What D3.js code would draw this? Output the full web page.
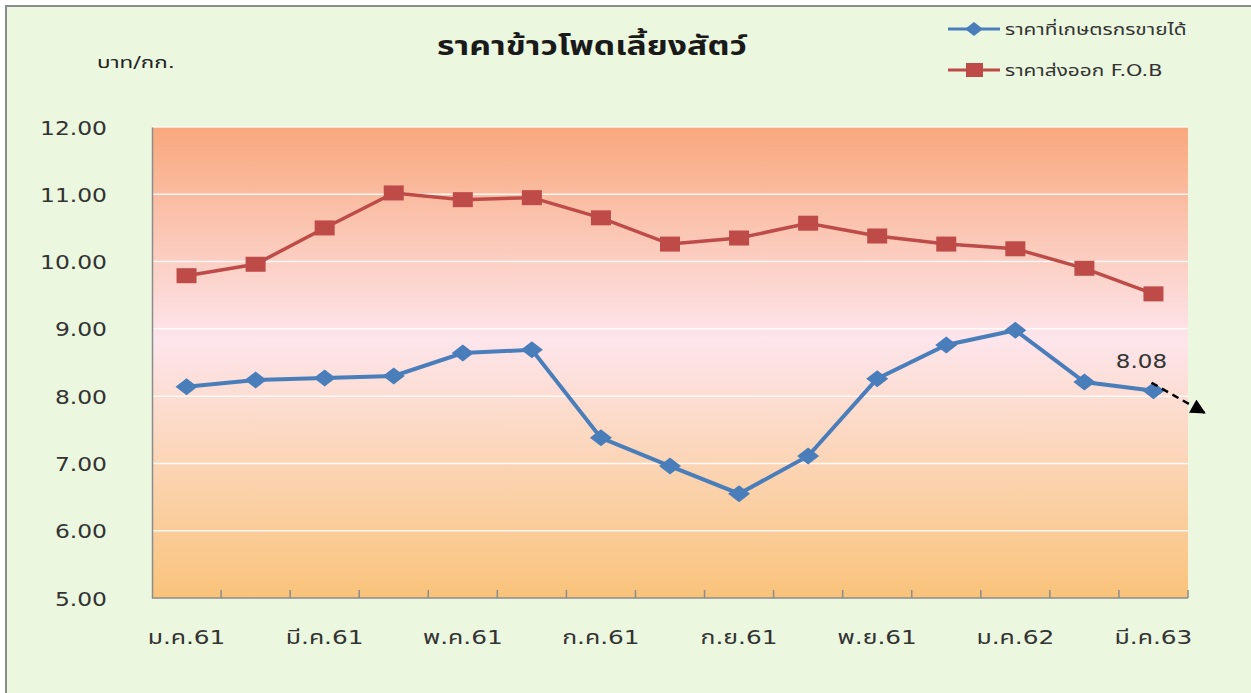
<!DOCTYPE html>
<html>
<head>
<meta charset="utf-8">
<script src="https://cdn.jsdelivr.net/npm/d3@7"></script>
<style>
  body { margin: 0; background: #fff; }
  svg { display: block; font-family: "DejaVu Sans", "Noto Sans Thai", "Noto Sans", sans-serif; }
</style>
</head>
<body>
<div id="chart"></div>
<script>
// months shown on the chart (label printed every other month)
const months = ["ม.ค.61","ก.พ.61","มี.ค.61","เม.ย.61","พ.ค.61","มิ.ย.61","ก.ค.61","ส.ค.61",
                "ก.ย.61","ต.ค.61","พ.ย.61","ธ.ค.61","ม.ค.62","ก.พ.62","มี.ค.63"];
const farmPrice = [8.14, 8.24, 8.27, 8.30, 8.64, 8.69, 7.38, 6.96, 6.55, 7.11, 8.26, 8.76, 8.98, 8.21, 8.08];
const fobPrice  = [9.79, 9.96, 10.50, 11.02, 10.92, 10.95, 10.65, 10.26, 10.35, 10.57, 10.38, 10.26, 10.19, 9.90, 9.52];
const yTicks = [5, 6, 7, 8, 9, 10, 11, 12];
const seriesNames = ["ราคาที่เกษตรกรขายได้", "ราคาส่งออก F.O.B"];

const width = 1251, height = 693;
const margin = {top: 127, right: 63, bottom: 95, left: 152};
const w = width - margin.left - margin.right;
const h = height - margin.top - margin.bottom;

// the original picture is stretched sideways, so text is widened too
const stretch = (sel, sx) => sel.each(function() {
  const t = d3.select(this);
  const px = +t.attr("x") || 0, py = +t.attr("y") || 0;
  t.attr("x", 0).attr("y", 0).attr("transform", `translate(${px},${py}) scale(${sx},1)`);
});

const svg = d3.select("#chart").append("svg")
    .attr("width", width)
    .attr("height", height);

const defs = svg.append("defs");
const grad = defs.append("linearGradient")
    .attr("id", "plotbg").attr("x1", 0).attr("y1", 0).attr("x2", 0).attr("y2", 1);
grad.append("stop").attr("offset", "0%").attr("stop-color", "#f9a87c");
grad.append("stop").attr("offset", "45%").attr("stop-color", "#fde5ec");
grad.append("stop").attr("offset", "100%").attr("stop-color", "#f9c37a");

const arrow = defs.append("marker")
    .attr("id", "arrowhead")
    .attr("viewBox", "0 0 10 10")
    .attr("refX", 9).attr("refY", 5)
    .attr("markerWidth", 6.5).attr("markerHeight", 6)
    .attr("orient", "auto");
arrow.append("path").attr("d", "M0,0 L10,5 L0,10 Z").attr("fill", "#000");

// outer background + frame
svg.append("rect").attr("width", width).attr("height", height).attr("fill", "#ffffff");
svg.append("rect")
    .attr("x", 6).attr("y", 6).attr("width", width).attr("height", height)
    .attr("fill", "#ebf7df")
    .attr("stroke", "#8c8c8c").attr("stroke-width", 2);

const g = svg.append("g").attr("transform", `translate(${margin.left},${margin.top})`);

const x = d3.scaleBand().domain(months).range([0, w]);
const y = d3.scaleLinear().domain([5, 12]).range([h, 0]);
const cx = d => x(d) + x.bandwidth() / 2;

g.append("rect").attr("width", w).attr("height", h).attr("fill", "url(#plotbg)");

// gridlines
g.append("g").selectAll("line")
  .data(yTicks.filter(t => t > 5))
  .join("line")
    .attr("x1", 0).attr("x2", w)
    .attr("y1", d => y(d)).attr("y2", d => y(d))
    .attr("stroke", "#ffffff").attr("stroke-opacity", 0.85).attr("stroke-width", 1.5);

// y axis
const yAxis = g.append("g")
    .call(d3.axisLeft(y).tickValues(yTicks).tickFormat(d3.format(".2f")).tickSize(0));
yAxis.attr("font-family", null);
yAxis.select(".domain").attr("stroke", "#8c8c8c").attr("stroke-width", 1.5);
yAxis.selectAll("text")
    .attr("font-size", 20).attr("fill", "#333")
    .attr("x", -45).attr("y", 0).attr("dy", "0.35em")
    .call(stretch, 1.17);

// x axis: ticks at band boundaries, labels every other month
const xAxis = g.append("g").attr("transform", `translate(0,${h})`);
xAxis.append("line").attr("x1", 0).attr("x2", w).attr("stroke", "#8c8c8c").attr("stroke-width", 1.5);
xAxis.selectAll("line.tick")
  .data(months)
  .join("line")
    .attr("class", "tick")
    .attr("x1", d => x(d) + x.bandwidth()).attr("x2", d => x(d) + x.bandwidth())
    .attr("y1", 0).attr("y2", -8)
    .attr("stroke", "#8c8c8c").attr("stroke-width", 1.5);
xAxis.selectAll("text")
  .data(months.filter((d, i) => i % 2 === 0))
  .join("text")
    .attr("x", d => cx(d)).attr("y", 46)
    .attr("text-anchor", "middle")
    .attr("font-size", 20).attr("fill", "#333")
    .text(d => d)
    .call(stretch, 1.24);

// lines
const line = d3.line().x((d, i) => cx(months[i])).y(d => y(d));

g.append("path").datum(fobPrice)
    .attr("fill", "none").attr("stroke", "#be4b48").attr("stroke-width", 3.5)
    .attr("d", line);
g.append("g").selectAll("rect")
  .data(fobPrice)
  .join("rect")
    .attr("x", (d, i) => cx(months[i]) - 10).attr("y", d => y(d) - 7.5)
    .attr("width", 20).attr("height", 15)
    .attr("fill", "#be4b48");

g.append("path").datum(farmPrice)
    .attr("fill", "none").attr("stroke", "#4a7ebb").attr("stroke-width", 4)
    .attr("d", line);
g.append("g").selectAll("path")
  .data(farmPrice)
  .join("path")
    .attr("transform", (d, i) => `translate(${cx(months[i])},${y(d)})`)
    .attr("d", "M-11,0 L0,-8.5 L11,0 L0,8.5 Z")
    .attr("fill", "#4a7ebb");

// annotation on last farm price
const last = farmPrice.length - 1;
const lx = cx(months[last]), ly = y(farmPrice[last]);
g.append("text")
    .attr("x", lx - 12).attr("y", ly - 23)
    .attr("text-anchor", "middle")
    .attr("font-size", 20).attr("fill", "#333")
    .text(farmPrice[last].toFixed(2))
    .call(stretch, 1.15);
g.append("line")
    .attr("x1", lx - 2).attr("y1", ly - 8)
    .attr("x2", lx + 51).attr("y2", ly + 22)
    .attr("stroke", "#000").attr("stroke-width", 2.5)
    .attr("stroke-dasharray", "7,5")
    .attr("marker-end", "url(#arrowhead)");

// title and unit
svg.append("text")
    .attr("x", 592).attr("y", 55)
    .attr("text-anchor", "middle")
    .attr("font-size", 26).attr("font-weight", "bold").attr("fill", "#1a1a1a")
    .text("ราคาข้าวโพดเลี้ยงสัตว์")
    .call(stretch, 1.3);
svg.append("text")
    .attr("x", 97).attr("y", 68)
    .attr("font-size", 16).attr("fill", "#222")
    .text("บาท/กก.")
    .call(stretch, 1.4);

// legend
const legend = svg.append("g").attr("transform", "translate(948,0)");
const legendY = [29, 70];
legend.selectAll("line")
  .data(seriesNames)
  .join("line")
    .attr("x1", 0).attr("x2", 52)
    .attr("y1", (d, i) => legendY[i]).attr("y2", (d, i) => legendY[i])
    .attr("stroke", (d, i) => i === 0 ? "#4a7ebb" : "#be4b48")
    .attr("stroke-width", 3);
legend.append("path")
    .attr("transform", `translate(26,${legendY[0]})`)
    .attr("d", "M-9,0 L0,-7 L9,0 L0,7 Z").attr("fill", "#4a7ebb");
legend.append("rect")
    .attr("x", 18).attr("y", legendY[1] - 7).attr("width", 17).attr("height", 14)
    .attr("fill", "#be4b48");
legend.selectAll("text")
  .data(seriesNames)
  .join("text")
    .attr("x", 57).attr("y", (d, i) => legendY[i] + 6)
    .attr("font-size", 16).attr("fill", "#333")
    .text(d => d)
    .call(stretch, 1.3);
</script>
</body>
</html>
